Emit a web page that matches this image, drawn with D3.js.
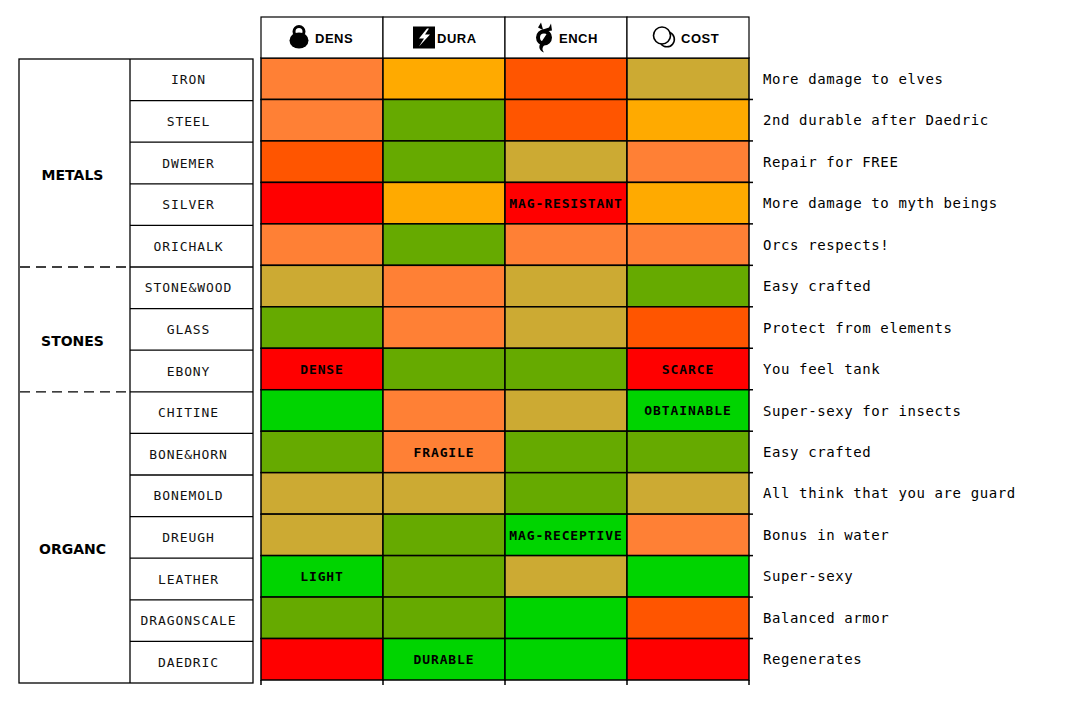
<!DOCTYPE html>
<html>
<head>
<meta charset="utf-8">
<script src="https://cdn.jsdelivr.net/npm/d3@7/dist/d3.min.js"></script>
<style>
  html, body { margin: 0; padding: 0; background: #fff; }
  svg { display: block; }
</style>
</head>
<body>
<svg id="chart" width="1065" height="720"></svg>
<script>
// ---------------- DATA ----------------
const columns = ["DENS", "DURA", "ENCH", "COST"];
const materials = ["IRON", "STEEL", "DWEMER", "SILVER", "ORICHALK",
  "STONE&WOOD", "GLASS", "EBONY",
  "CHITINE", "BONE&HORN", "BONEMOLD", "DREUGH", "LEATHER", "DRAGONSCALE", "DAEDRIC"];
const groups = ["METALS", "STONES", "ORGANC"];
const groupSizes = [5, 3, 7];
// rating 1 (worst, red) .. 7 (best, green)
const dens = [3, 3, 2, 1, 3, 5, 6, 1, 7, 6, 5, 5, 7, 6, 1];
const dura = [4, 6, 6, 4, 6, 3, 3, 6, 3, 3, 5, 6, 6, 6, 7];
const ench = [2, 2, 5, 1, 3, 5, 5, 6, 5, 6, 6, 7, 5, 7, 7];
const cost = [5, 4, 3, 4, 3, 6, 2, 1, 7, 6, 5, 3, 7, 2, 1];
const ratingLevels = [1, 2, 3, 4, 5, 6, 7];
const ratingColors = ["#FF0000", "#FF5500", "#FF8035", "#FFAA00", "#CCAA33", "#66AA00", "#00D400"];
const cellLabels = [
  { material: "SILVER", column: "ENCH", text: "MAG-RESISTANT" },
  { material: "EBONY", column: "DENS", text: "DENSE" },
  { material: "EBONY", column: "COST", text: "SCARCE" },
  { material: "CHITINE", column: "COST", text: "OBTAINABLE" },
  { material: "BONE&HORN", column: "DURA", text: "FRAGILE" },
  { material: "DREUGH", column: "ENCH", text: "MAG-RECEPTIVE" },
  { material: "LEATHER", column: "DENS", text: "LIGHT" },
  { material: "DAEDRIC", column: "DURA", text: "DURABLE" }
];
const notes = ["More damage to elves", "2nd durable after Daedric", "Repair for FREE",
  "More damage to myth beings", "Orcs respects!", "Easy crafted", "Protect from elements",
  "You feel tank", "Super-sexy for insects", "Easy crafted", "All think that you are guard",
  "Bonus in water", "Super-sexy", "Balanced armor", "Regenerates"];

// ---------------- DRAWING ----------------
const svg = d3.select("#chart");
const series = [dens, dura, ench, cost];

const x = d3.scaleBand().domain(columns).range([261, 749]);
const y = d3.scaleBand().domain(materials).range([58, 680]);
const yLeft = d3.scaleBand().domain(materials).range([59, 683]);
const color = d3.scaleOrdinal().domain(ratingLevels).range(ratingColors);

const cells = [];
materials.forEach((m, i) => columns.forEach((c, j) => cells.push({ m, c, v: series[j][i] })));

// heatmap cells
svg.append("g").selectAll("rect").data(cells).join("rect")
  .attr("x", d => x(d.c)).attr("y", d => y(d.m))
  .attr("width", x.bandwidth()).attr("height", y.bandwidth())
  .attr("fill", d => color(d.v))
  .attr("stroke", "#000").attr("stroke-width", 1.5);

// ticks on right edge & bottom
const ticks = svg.append("g").attr("stroke", "#000").attr("stroke-width", 1.5);
ticks.selectAll("line.r").data(materials.slice(1)).join("line").attr("class", "r")
  .attr("x1", 749).attr("x2", 753).attr("y1", d => y(d)).attr("y2", d => y(d));
ticks.selectAll("line.b").data(columns.concat(["end"])).join("line").attr("class", "b")
  .attr("x1", d => d === "end" ? x.range()[1] : x(d))
  .attr("x2", d => d === "end" ? x.range()[1] : x(d))
  .attr("y1", 680).attr("y2", 685);

// cell labels
svg.append("g").selectAll("text").data(cellLabels).join("text")
  .attr("x", d => x(d.column) + x.bandwidth() / 2)
  .attr("y", d => y(d.material) + y.bandwidth() / 2)
  .attr("dy", "0.36em")
  .attr("text-anchor", "middle")
  .attr("font-family", "DejaVu Sans Mono, monospace")
  .attr("font-weight", "bold")
  .attr("font-size", 13)
  .attr("letter-spacing", 0.9)
  .attr("fill", "#000")
  .text(d => d.text);

// header
const hTop = 17, hBot = 58;
const hMid = (hTop + hBot) / 2;
const header = svg.append("g");
header.selectAll("rect").data(columns).join("rect")
  .attr("x", d => x(d)).attr("y", hTop).attr("width", x.bandwidth()).attr("height", hBot - hTop)
  .attr("fill", "#fff").attr("stroke", "#000").attr("stroke-width", 1.2);
header.selectAll("text").data(columns).join("text")
  .attr("x", d => x(d) + 54)
  .attr("y", hMid + 1)
  .attr("dy", "0.36em")
  .attr("font-family", "Liberation Sans, Arial, sans-serif")
  .attr("font-weight", "bold")
  .attr("font-size", 13)
  .attr("letter-spacing", 0.5)
  .text(d => d);

// icons (placed just left of each header word)
function icon(col, dx) {
  return header.append("g").attr("transform", `translate(${x(col) + dx},${hMid})`);
}
// DENS: weight/lock
{
  const g = icon("DENS", 38);
  g.append("circle").attr("cx", 0).attr("cy", -6).attr("r", 5).attr("fill", "none")
    .attr("stroke", "#000").attr("stroke-width", 3);
  g.append("ellipse").attr("cx", 0).attr("cy", 3).attr("rx", 9.5).attr("ry", 8).attr("fill", "#000");
}
// DURA: lightning
{
  const g = icon("DURA", 41);
  g.append("rect").attr("x", -11).attr("y", -11).attr("width", 22).attr("height", 22).attr("fill", "#000");
  g.append("path").attr("d", "M3,-9 L-5,1 L0,1 L-5,9 L6,-3 L1,-3 L5,-9 Z").attr("fill", "#fff");
}
// ENCH: dragon glyph
{
  const g = icon("ENCH", 38);
  g.append("circle").attr("cx", 1).attr("cy", 0).attr("r", 6).attr("fill", "none")
    .attr("stroke", "#000").attr("stroke-width", 4);
  g.append("path").attr("d", "M-5,-10 L-2,-15 L0,-8 L6,-10 L8,-14 L9,-7 L3,-6 Z").attr("fill", "#000");
  g.append("path").attr("d", "M4,-4 L-2,5 C-5,9 -4,13 1,15 C-2,11 0,9 3,6 L7,1 Z").attr("fill", "#000");
}
// COST: coins
{
  const g = icon("COST", 39);
  g.append("circle").attr("cx", -4).attr("cy", -2).attr("r", 8.5).attr("fill", "none")
    .attr("stroke", "#000").attr("stroke-width", 1.6);
  g.append("path").attr("d", "M4,-5 A7.5,7.5 0 1 1 -5,6.5").attr("fill", "none")
    .attr("stroke", "#000").attr("stroke-width", 1.6);
}

// left table
const left = svg.append("g");
const lx0 = 19, lx1 = 130, lx2 = 253;
const [ly0, ly1] = yLeft.range();
left.append("rect").attr("x", lx0).attr("y", ly0).attr("width", lx2 - lx0).attr("height", ly1 - ly0)
  .attr("fill", "none").attr("stroke", "#000").attr("stroke-width", 1.3);
left.append("line").attr("x1", lx1).attr("x2", lx1).attr("y1", ly0).attr("y2", ly1)
  .attr("stroke", "#000").attr("stroke-width", 1.3);
left.selectAll("line.row").data(materials.slice(1)).join("line").attr("class", "row")
  .attr("x1", lx1).attr("x2", lx2).attr("y1", d => yLeft(d)).attr("y2", d => yLeft(d))
  .attr("stroke", "#000").attr("stroke-width", 1.3);
left.selectAll("text.mat").data(materials).join("text").attr("class", "mat")
  .attr("x", (lx1 + lx2) / 2 - 3)
  .attr("y", d => yLeft(d) + yLeft.bandwidth() / 2)
  .attr("dy", "0.36em")
  .attr("text-anchor", "middle")
  .attr("font-family", "DejaVu Sans Mono, monospace")
  .attr("font-size", 13)
  .attr("letter-spacing", 0.9)
  .attr("fill", "#111")
  .text(d => d);

// groups
let start = 0;
const groupInfo = groups.map((gname, i) => {
  const s = start; start += groupSizes[i];
  return { name: gname, first: materials[s], last: materials[start - 1], idx: i };
});
const gTop = g => yLeft(g.first);
const gBot = g => yLeft(g.last) + yLeft.bandwidth();
left.selectAll("line.grp").data(groupInfo.slice(0, -1)).join("line").attr("class", "grp")
  .attr("x1", lx0 + 1).attr("x2", lx1).attr("y1", d => gBot(d)).attr("y2", d => gBot(d))
  .attr("stroke", "#000").attr("stroke-width", 1.3).attr("stroke-dasharray", "10,6");
left.selectAll("text.grp").data(groupInfo).join("text").attr("class", "grp")
  .attr("x", (lx0 + lx1) / 2 - 2)
  .attr("y", d => (gTop(d) + gBot(d)) / 2 + 12)
  .attr("dy", "0.36em")
  .attr("text-anchor", "middle")
  .attr("font-family", "DejaVu Sans, Verdana, sans-serif")
  .attr("font-weight", "bold")
  .attr("font-size", 14)
  .attr("fill", "#000")
  .text(d => d.name);

// right notes
svg.append("g").selectAll("text").data(notes).join("text")
  .attr("x", 763)
  .attr("y", (d, i) => y(materials[i]) + y.bandwidth() / 2)
  .attr("dy", "0.36em")
  .attr("font-family", "DejaVu Sans Mono, monospace")
  .attr("font-size", 14)
  .attr("letter-spacing", 0.6)
  .attr("fill", "#000")
  .text(d => d);
</script>
</body>
</html>
